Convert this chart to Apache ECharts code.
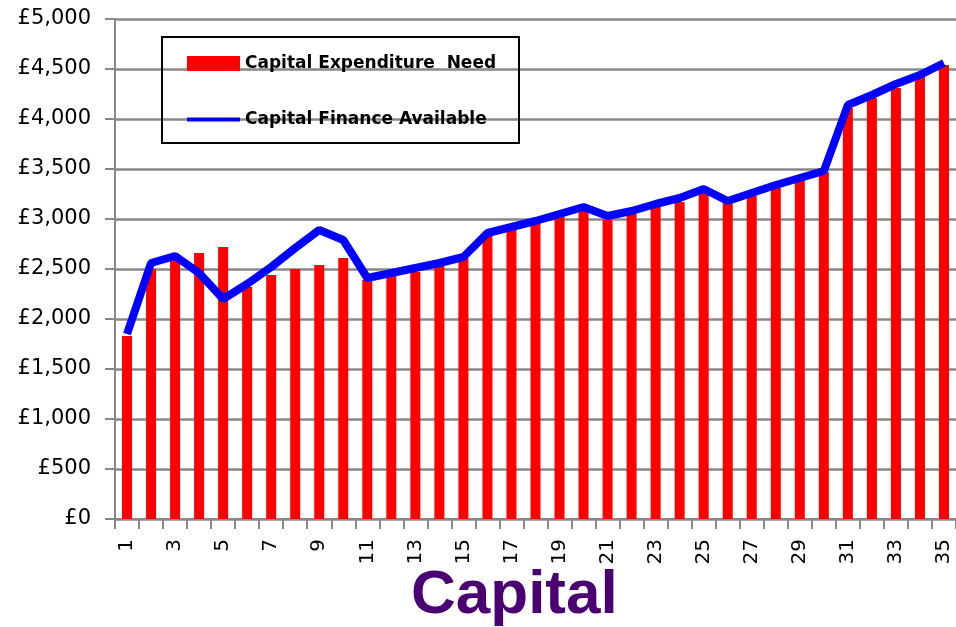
<!DOCTYPE html>
<html>
<head>
<meta charset="utf-8">
<script src="https://cdn.jsdelivr.net/npm/echarts@6/dist/echarts.min.js"></script>
<style>html,body{margin:0;padding:0;background:#fff}#c{width:956px;height:627px}</style>
</head>
<body>
<div id="c"></div>
<script>
const categories = ['1','2','3','4','5','6','7','8','9','10','11','12','13','14','15','16','17','18','19','20','21','22','23','24','25','26','27','28','29','30','31','32','33','34','35'];
const expenditureNeed = [1830,2500,2590,2660,2720,2320,2440,2500,2540,2610,2390,2430,2470,2540,2610,2840,2890,2960,3030,3090,2990,3050,3120,3170,3260,3160,3230,3310,3390,3470,4110,4210,4310,4420,4540];
const financeAvailable = [1850,2560,2630,2460,2200,2350,2520,2710,2890,2790,2410,2460,2510,2560,2620,2860,2920,2980,3050,3120,3030,3080,3150,3210,3300,3180,3260,3340,3410,3480,4140,4240,4350,4440,4560];
const seriesNames = ['Capital Expenditure  Need', 'Capital Finance Available'];
const titleText = 'Capital';

const chart = echarts.init(document.getElementById('c'));
chart.setOption({
  animation: false,
  backgroundColor: '#ffffff',
  title: {
    text: titleText,
    left: 406, top: 560,
    textStyle: {fontFamily: 'Liberation Sans', fontSize: 62, fontWeight: 'bold', color: '#4a0072'}
  },
  graphic: [{
    type: 'rect', shape: {x: 162, y: 37, width: 357, height: 106},
    style: {fill: 'none', stroke: '#000', lineWidth: 2}, z: 100
  }],
  legend: {
    orient: 'vertical', left: 180, top: 50,
    itemWidth: 53, itemHeight: 15, itemGap: 39,
    textStyle: {fontFamily: 'DejaVu Sans', fontWeight: 'bold', fontSize: 17, color: '#000'},
    data: [
      {name: seriesNames[0], icon: 'rect'},
      {name: seriesNames[1], lineStyle: {width: 4}, itemStyle: {opacity: 0}}
    ]
  },
  grid: {left: 115, right: -3, top: 19, bottom: 108, containLabel: false},
  xAxis: {
    type: 'category', data: categories, boundaryGap: true,
    axisLine: {lineStyle: {color: '#888', width: 2}},
    axisTick: {show: true, length: 10, interval: 0, lineStyle: {color: '#888', width: 2}},
    axisLabel: {interval: 1, rotate: 90, margin: 20, fontFamily: 'DejaVu Sans', fontSize: 20, color: '#000'},
    splitLine: {show: false}
  },
  yAxis: {
    type: 'value', min: 0, max: 5000, interval: 500,
    axisLine: {show: true, lineStyle: {color: '#888', width: 2}},
    axisTick: {show: true, length: 10, lineStyle: {color: '#888', width: 2}},
    axisLabel: {margin: 24, fontFamily: 'DejaVu Sans', fontSize: 21, color: '#000',
      formatter: v => '£' + v.toLocaleString('en-GB')},
    splitLine: {lineStyle: {color: '#888', width: 2.5}}
  },
  series: [
    {name: seriesNames[0], type: 'bar', data: expenditureNeed, barWidth: 10,
      itemStyle: {color: '#ff0000'}},
    {name: seriesNames[1], type: 'line', data: financeAvailable, symbol: 'none',
      lineStyle: {color: '#0000ff', width: 8}, itemStyle: {color: '#0000ff'}}
  ]
});
</script>
</body>
</html>
